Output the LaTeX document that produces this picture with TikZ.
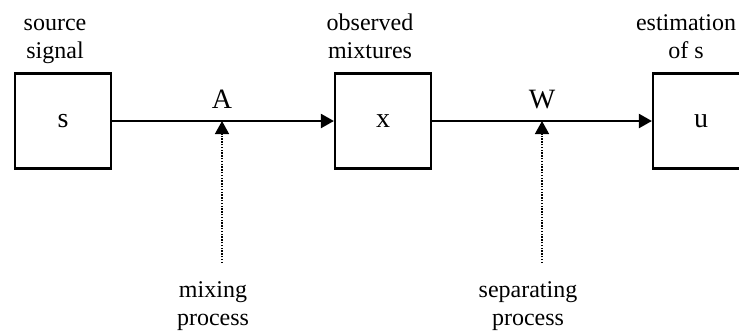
\documentclass[tikz,border=0pt]{standalone}
\usepackage{fontspec}
\setmainfont{Liberation Serif}
\usetikzlibrary{arrows.meta}

\tikzset{
  block/.style={draw, line width=1.1pt, minimum width=48pt, minimum height=47.5pt, inner sep=0pt, font=\fontsize{14}{16}\selectfont},
  txt/.style={align=center, anchor=base, inner sep=0pt, font=\fontsize{12}{14}\selectfont},
  sym/.style={anchor=base, inner sep=0pt, font=\fontsize{14}{16}\selectfont},
  flow/.style={line width=1.1pt, -{Triangle[length=6.5pt,width=7pt]}},
  ctrl/.style={dash pattern=on 0.7pt off 0.7pt, line width=0.7pt, -{Triangle[length=6.5pt,width=7pt]}},
}

\begin{document}
\begin{tikzpicture}[x=0.5pt,y=-0.5pt]
  \fill[white] (0,0) rectangle (739,333);
  \useasboundingbox (0,0) rectangle (739,333);
  \clip (0,0) rectangle (739,333);

  % the three blocks
  \node[block] (s) at (63,121) {s};
  \node[block] (x) at (383,121) {x};
  \node[block] (u) at (701,121) {u};

  % captions over the blocks (base = last line)
  \node[txt] (srccap) at (55,58) {source\\signal};
  \node[txt] (obscap) at (370,58) {observed\\mixtures};
  \node[txt] (estcap) at (686,58) {estimation\\of s};

  % main signal path
  \node[sym] (A) at (222,108) {A};
  \node[sym] (W) at (542,108) {W};
  \coordinate (amid) at (222,121);
  \coordinate (wmid) at (542,121);
  \draw[flow] (s) -- (x);
  \draw[flow] (x) -- (u);

  % processes feeding in from below
  \node[txt] (mix) at (213,325) {mixing\\process};
  \node[txt] (sep) at (528,325) {separating\\process};
  \coordinate (mixend) at (222,263);
  \coordinate (sepend) at (542,263);
  \draw[ctrl] (mixend) -- (amid);
  \draw[ctrl] (sepend) -- (wmid);
\end{tikzpicture}
\end{document}
